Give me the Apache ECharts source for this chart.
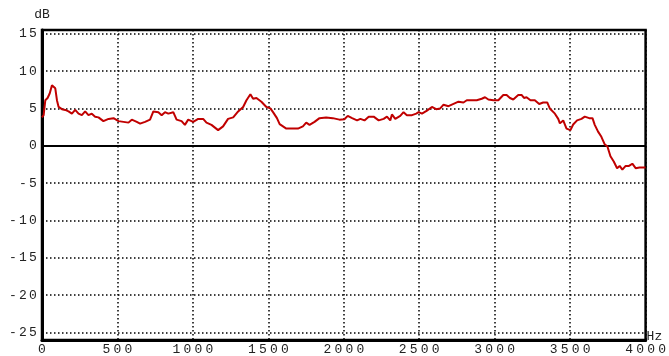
<!DOCTYPE html>
<html>
<head>
<meta charset="utf-8">
<script src="https://cdn.jsdelivr.net/npm/echarts@6/dist/echarts.min.js"></script>
<style>html,body{margin:0;padding:0;background:#fff}#c{width:669px;height:356px}</style>
</head>
<body>
<div id="c"></div>
<script>
const freqHz = [0, 11, 22, 37, 51, 66, 77, 88, 99, 110, 132, 154, 176, 198, 220, 242, 264, 286, 308, 330, 352, 374, 407, 441, 474, 507, 540, 573, 595, 628, 650, 683, 716, 738, 771, 793, 815, 837, 870, 892, 925, 947, 969, 1002, 1035, 1068, 1090, 1123, 1167, 1200, 1233, 1267, 1300, 1333, 1355, 1381, 1399, 1421, 1454, 1487, 1513, 1531, 1557, 1575, 1619, 1663, 1696, 1729, 1751, 1773, 1806, 1839, 1883, 1927, 1971, 2004, 2026, 2055, 2088, 2110, 2137, 2165, 2198, 2231, 2264, 2286, 2308, 2319, 2341, 2374, 2396, 2418, 2452, 2480, 2496, 2518, 2551, 2584, 2612, 2639, 2661, 2694, 2727, 2760, 2793, 2815, 2848, 2881, 2914, 2936, 2958, 2991, 3024, 3057, 3079, 3101, 3123, 3156, 3178, 3194, 3211, 3237, 3266, 3295, 3321, 3348, 3365, 3399, 3421, 3432, 3454, 3476, 3502, 3520, 3546, 3575, 3597, 3626, 3648, 3663, 3685, 3707, 3729, 3747, 3767, 3789, 3811, 3828, 3846, 3868, 3890, 3912, 3934, 3960, 3993, 4000];
const levelDb = [3.8, 4.1, 6.1, 6.4, 7.0, 8.1, 8.2, 7.7, 6.1, 5.2, 4.9, 4.8, 4.6, 4.3, 4.8, 4.3, 4.1, 4.6, 4.1, 4.3, 3.9, 3.8, 3.3, 3.6, 3.7, 3.3, 3.2, 3.1, 3.5, 3.2, 2.96, 3.2, 3.5, 4.6, 4.5, 4.1, 4.5, 4.3, 4.5, 3.5, 3.3, 2.8, 3.5, 3.2, 3.6, 3.6, 3.1, 2.8, 2.1, 2.6, 3.6, 3.8, 4.6, 5.2, 6.1, 6.9, 6.3, 6.4, 5.9, 5.2, 5.0, 4.5, 3.7, 2.9, 2.3, 2.3, 2.3, 2.6, 3.1, 2.8, 3.2, 3.7, 3.8, 3.7, 3.5, 3.55, 4.0, 3.7, 3.4, 3.6, 3.4, 3.9, 3.9, 3.4, 3.6, 3.9, 3.4, 4.2, 3.6, 4.0, 4.5, 4.1, 4.1, 4.3, 4.5, 4.3, 4.7, 5.2, 4.9, 5.0, 5.5, 5.3, 5.6, 5.9, 5.8, 6.1, 6.1, 6.1, 6.3, 6.5, 6.2, 6.1, 6.1, 6.8, 6.8, 6.4, 6.2, 6.8, 6.8, 6.4, 6.5, 6.1, 6.1, 5.6, 5.8, 5.8, 5.0, 4.3, 3.6, 3.0, 3.4, 2.3, 2.1, 2.85, 3.4, 3.6, 3.9, 3.7, 3.7, 2.8, 1.9, 1.2, 0.2, -0.1, -1.4, -2.1, -3.0, -2.7, -3.2, -2.7, -2.7, -2.4, -3.0, -2.9, -2.9, -2.9];
const xTicks = [0, 500, 1000, 1500, 2000, 2500, 3000, 3500, 4000];
const yTicks = [-25, -20, -15, -10, -5, 0, 5, 10, 15];

const FONT = 'Liberation Mono';
function spaced(v) {
  return String(v).split('').map(ch => '{c|' + ch + '}').join('');
}
const chart = echarts.init(document.getElementById('c'), null, {renderer: 'canvas'});
const dotted = {color: '#000', width: 1.5, type: [1.5, 2.5]};
chart.setOption({
  animation: false,
  backgroundColor: '#fff',
  grid: {left: 42, right: 23, top: 30, bottom: 12, show: true, borderColor: '#000', borderWidth: 2.5, backgroundColor: 'transparent'},
  xAxis: {
    type: 'value', min: 0, max: 4000,
    name: 'Hz', nameLocation: 'end', nameGap: 1,
    nameTextStyle: {fontFamily: FONT, fontSize: 13, color: '#222', align: 'left', verticalAlign: 'bottom', padding: [0, 0, -3, 0]},
    axisLine: {show: true, onZero: false, lineStyle: {color: '#000', width: 3}},
    axisTick: {show: false, customValues: xTicks},
    axisLabel: {customValues: xTicks, margin: 3, formatter: spaced, color: '#222',
      rich: {c: {fontFamily: FONT, fontSize: 13, width: 11, align: 'center', color: '#222'}}},
    splitLine: {show: true, lineStyle: dotted}
  },
  yAxis: {
    type: 'value', min: -26, max: 15.5,
    name: 'dB', nameLocation: 'end', nameGap: 9,
    nameTextStyle: {fontFamily: FONT, fontSize: 13, color: '#222', align: 'center'},
    axisLine: {show: true, onZero: false, lineStyle: {color: '#000', width: 3}},
    axisTick: {show: false, customValues: yTicks},
    axisLabel: {customValues: yTicks, margin: 4, formatter: spaced, color: '#222',
      rich: {c: {fontFamily: FONT, fontSize: 13, width: 10, align: 'center', color: '#222'}}},
    splitLine: {show: true, lineStyle: dotted}
  },
  series: [{
    type: 'line',
    data: freqHz.map((f, i) => [f, levelDb[i]]),
    showSymbol: false,
    lineStyle: {color: '#c00000', width: 2},
    z: 5,
    markLine: {
      silent: true, symbol: 'none', label: {show: false},
      lineStyle: {color: '#000', width: 2, type: 'solid'},
      data: [{yAxis: 0}]
    }
  }]
});
</script>
</body>
</html>
